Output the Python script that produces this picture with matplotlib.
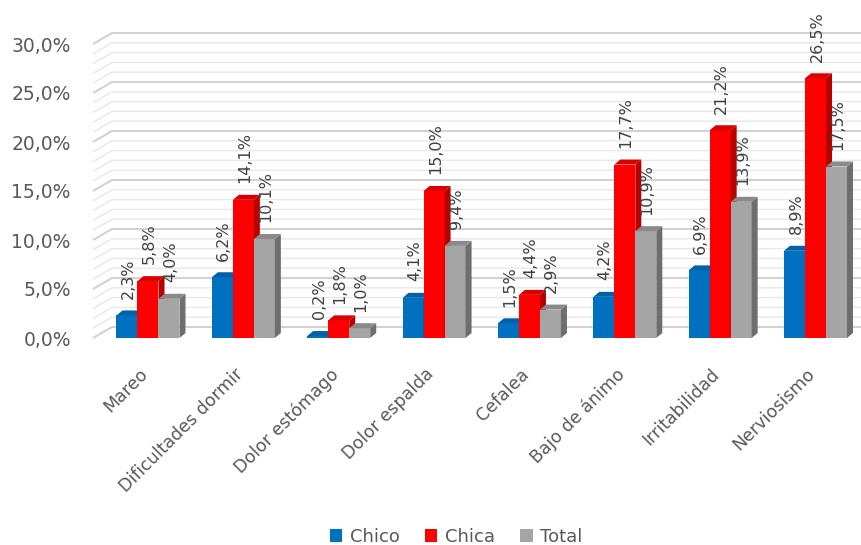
import matplotlib.pyplot as plt
from matplotlib.patches import Polygon, Patch

# datos por síntoma (%)
categorias = ["Mareo", "Dificultades dormir", "Dolor estómago", "Dolor espalda",
              "Cefalea", "Bajo de ánimo", "Irritabilidad", "Nerviosismo"]
chico = [2.3, 6.2, 0.2, 4.1, 1.5, 4.2, 6.9, 8.9]
chica = [5.8, 14.1, 1.8, 15.0, 4.4, 17.7, 21.2, 26.5]
total = [4.0, 10.1, 1.0, 9.4, 2.9, 10.9, 13.9, 17.5]
series = ["Chico", "Chica", "Total"]

# colores: frente, lateral, tapa
colores = [("#0070C0", "#004f8c", "#0060a8"),
           ("#FF0000", "#b80000", "#d80000"),
           ("#A5A5A5", "#6e6e6e", "#8a8a8a")]

W, H = 862, 545
fig = plt.figure(figsize=(W / 100, H / 100), dpi=100)
ax = fig.add_axes([93 / W, (H - 338) / H, (W - 93) / W, 294 / H])

px_x = 95.36  # pixeles por categoría
px_y = 9.8    # pixeles por punto porcentual
x0 = -(148 - 93) / px_x
x1 = x0 + (W - 93) / px_x
ax.set_xlim(x0, x1)
ax.set_ylim(0, 30)

# paredes del fondo (rejilla en 3D)
dxw, dyw = 19 / px_x, 11 / px_y
for k in range(0, 31):
    mayor = k % 5 == 0
    col = "#d2d2d2" if mayor else "#e8e8e8"
    lw = 1.5 if mayor else 1.0
    ax.plot([x0, x0 + dxw, x1 + 1], [k, k + dyw, k + dyw], color=col, lw=lw,
            clip_on=False, zorder=1, solid_capstyle="butt")

# barras con profundidad
w = 21 / px_x
ddx, ddy = 6 / px_x, 5 / px_y
valores = [chico, chica, total]
z = 2
for i in range(len(categorias)):
    for s, vals in enumerate(valores):
        h = vals[i]
        xc = i + (s - 1) * w
        xl, xr = xc - w / 2, xc + w / 2
        front, side, top = colores[s]
        ax.bar(xc, h, width=w, color=front, zorder=z, linewidth=0)
        ax.add_patch(Polygon([(xr, 0), (xr + ddx, ddy), (xr + ddx, h + ddy), (xr, h)],
                             closed=True, facecolor=side, lw=0, zorder=z, clip_on=False))
        ax.add_patch(Polygon([(xl, h), (xr, h), (xr + ddx, h + ddy), (xl + ddx, h + ddy)],
                             closed=True, facecolor=top, lw=0, zorder=z, clip_on=False))
        z += 1
        ax.annotate(f"{h:.1f}%".replace(".", ","), xy=(xc, h), xytext=(1, 12),
                    textcoords="offset points", rotation=90, ha="center", va="bottom",
                    fontsize=11.5, color="#404040", zorder=100, annotation_clip=False)

# etiquetas de categoría
for i, cat in enumerate(categorias):
    ax.text(i - 0.1, -27 / 294, cat, transform=ax.get_xaxis_transform(),
            rotation=45, rotation_mode="anchor", ha="right", va="top",
            fontsize=12.5, color="#595959")

ax.set_xticks([])
ax.set_yticks(range(0, 31, 5))
ax.set_yticklabels([f"{v},0%" for v in range(0, 31, 5)], fontsize=13.5, color="#595959")
ax.tick_params(axis="y", length=0, pad=16)
for sp in ax.spines.values():
    sp.set_visible(False)
ax.patch.set_alpha(0)

handles = [Patch(facecolor=c[0], label=n) for c, n in zip(colores, series)]
fig.legend(handles=handles, loc="center", bbox_to_anchor=(456 / W, 1 - 537 / H),
           ncol=3, frameon=False, fontsize=13, handlelength=0.7, handleheight=0.7,
           handletextpad=0.4, columnspacing=1.4, labelcolor="#595959")

fig.savefig("out.png", dpi=100)
